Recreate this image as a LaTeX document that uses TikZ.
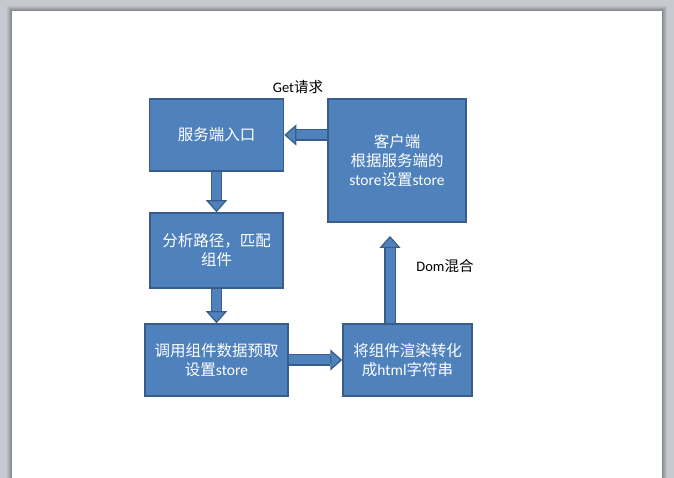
\documentclass[tikz,border=0pt]{standalone}
\usepackage{fontspec}
\setmainfont{Carlito}
\newfontfamily\cjk{Noto Sans CJK SC}
\usepackage{xcolor}
\usepackage{tikz}
\usetikzlibrary{calc, arrows.meta, positioning}

\definecolor{boxfill}{HTML}{4F81BD}
\definecolor{boxline}{HTML}{385D8A}
\definecolor{deskgray}{HTML}{C6C9CF}

\tikzset{
  stepbox/.style={draw=boxline, fill=boxfill, line width=1.5pt, text=white,
    align=center, inner sep=0pt, font=\fontsize{15.5}{19}\selectfont},
  fatarrow/.style={line width=9pt, draw=boxfill,
    -{Triangle[width=21pt, length=12pt, fill=boxfill, color=boxline, line width=1.2pt]},
    preaction={draw=boxline, line width=11.4pt, arrows=-, shorten >=12pt}},
  tag/.style={font=\fontsize{14.5}{17}\selectfont}
}

\begin{document}
\begin{tikzpicture}[x=1pt, y=1pt]
    % Vẽ nền và trang
    \useasboundingbox (0,0) rectangle (674,478);
    \fill[deskgray] (0,0) rectangle (674,478);
    \foreach \d/\o in {5/0.05, 4/0.06, 3/0.07, 2/0.08, 1/0.1} {
        \fill[black, opacity=\o] (12-\d,0) rectangle (662+\d,467+\d);
    }
    \fill[white] (12,0) rectangle (662,467);

    % Các khối
    \node[stepbox, minimum width=134pt, minimum height=72pt] (entry) at (216.5,343) {{\cjk 服务端入口}};
    \node[stepbox, minimum width=138pt, minimum height=123pt] (client) at (397,317.5)
        {{\cjk 客户端}\\{\cjk 根据服务端的}\\store{\cjk 设置}store};
    \node[stepbox, minimum width=133pt, minimum height=75pt] (match) at (216.5,227.5)
        {{\cjk 分析路径，匹配}\\{\cjk 组件}};
    \node[stepbox, minimum width=143pt, minimum height=72pt] (fetch) at (216.5,118)
        {{\cjk 调用组件数据预取}\\{\cjk 设置}store};
    \node[stepbox, minimum width=129pt, minimum height=72pt] (render) at (407.5,118)
        {{\cjk 将组件渲染转化}\\{\cjk 成}html{\cjk 字符串}};

    % Mũi tên
    \coordinate (mix) at (390,242);
    \draw[fatarrow] (entry) -- (match);
    \draw[fatarrow] (match) -- (fetch);
    \draw[fatarrow] (fetch) -- (render);
    \draw[fatarrow] (render.north -| mix) -- (mix);
    \draw[fatarrow] (client.west |- entry.east) -- (entry.east);

    % Nhãn
    \node[tag] (get) at (298,391) {Get{\cjk 请求}};
    \node[tag] (dom) at (445,212) {Dom{\cjk 混合}};
\end{tikzpicture}
\end{document}
